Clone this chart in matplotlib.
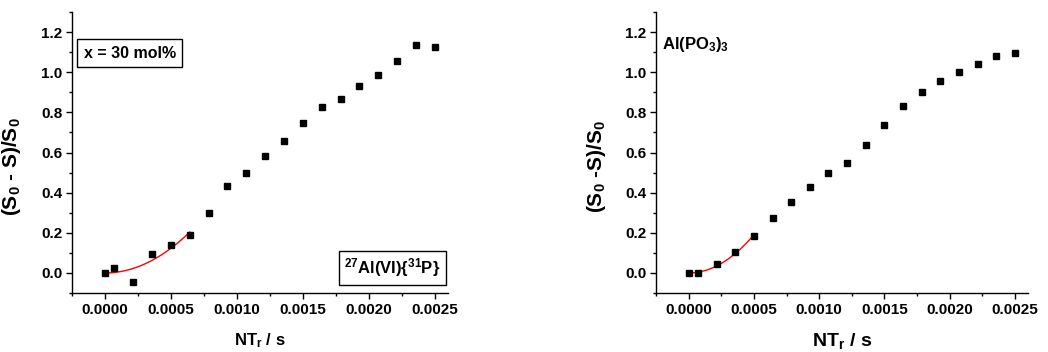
import numpy as np
import matplotlib
matplotlib.use("Agg")
import matplotlib.pyplot as plt

plt.rcParams['font.family'] = ['Liberation Sans', 'DejaVu Sans']
plt.rcParams['font.weight'] = 'bold'
plt.rcParams['mathtext.fontset'] = 'custom'
plt.rcParams['mathtext.rm'] = 'Liberation Sans:bold'
plt.rcParams['mathtext.it'] = 'Liberation Sans:bold'
plt.rcParams['mathtext.bf'] = 'Liberation Sans:bold'

# Dephasing times NT_r (s): multiples of the rotor period 1/7000 s
nt_units = [0, 0.5, 1.5, 2.5, 3.5, 4.5, 5.5, 6.5, 7.5, 8.5, 9.5,
            10.5, 11.5, 12.5, 13.5, 14.5, 15.5, 16.5, 17.5]
nt_r = [u / 7000.0 for u in nt_units]

# 27Al(VI){31P} REDOR fraction, x = 30 mol%
redor_30 = [0.000, 0.027, -0.046, 0.093, 0.141, 0.191, 0.300, 0.433,
            0.497, 0.582, 0.658, 0.749, 0.825, 0.869, 0.932, 0.988,
            1.054, 1.137, 1.124]

# Al(PO3)3 REDOR fraction
redor_alpo3 = [0.000, 0.000, 0.046, 0.105, 0.184, 0.276, 0.354, 0.427,
               0.500, 0.548, 0.636, 0.739, 0.832, 0.901, 0.954, 1.002,
               1.039, 1.080, 1.095]

# Upper limit of the initial parabolic (second-moment) fit range
fit_max_30 = 0.00065
fit_max_alpo3 = 0.00051

xticks = [0.0, 0.0005, 0.0010, 0.0015, 0.0020, 0.0025]
yticks = [0.0, 0.2, 0.4, 0.6, 0.8, 1.0, 1.2]


def parabola_fit(x, y, xmax):
    x = np.asarray(x)
    y = np.asarray(y)
    m = x <= xmax
    a = np.sum(x[m] ** 2 * y[m]) / np.sum(x[m] ** 4)
    xs = np.linspace(0, x[m].max(), 100)
    return xs, a * xs ** 2


def style_axes(ax, ylabel, xlabel_size):
    ax.set_xlim(-0.00025, 0.0026)
    ax.set_ylim(-0.1, 1.3)
    ax.set_xticks(xticks)
    ax.set_xticklabels([f"{t:.4f}" for t in xticks])
    ax.set_yticks(yticks)
    ax.set_yticklabels([f"{t:.1f}" for t in yticks])
    ax.set_xticks(np.arange(-0.00025, 0.0026, 0.0005), minor=True)
    ax.set_yticks(np.arange(-0.1, 1.31, 0.2), minor=True)
    for s in ('top', 'right'):
        ax.spines[s].set_visible(False)
    for s in ('left', 'bottom'):
        ax.spines[s].set_linewidth(1.0)
    ax.tick_params(which='major', direction='out', length=4, width=1.0,
                   labelsize=11, pad=3)
    ax.tick_params(which='minor', direction='out', length=2.2, width=1.0)
    for lab in ax.get_xticklabels() + ax.get_yticklabels():
        lab.set_fontweight('bold')
    ax.set_xlabel(r"NT$_\mathrm{r}$ / s", fontsize=xlabel_size, fontweight='bold')
    ax.set_ylabel(ylabel, fontsize=15, fontweight='bold')
    ax.xaxis.set_label_coords(0.5, -0.137)
    ax.yaxis.set_label_coords(-0.13, 0.45)


fig = plt.figure(figsize=(10.48, 3.52), dpi=100)
ax1 = fig.add_axes([72 / 1048, 59 / 352, 376 / 1048, 281 / 352])
ax2 = fig.add_axes([656 / 1048, 59 / 352, 372 / 1048, 281 / 352])

# Left panel
ax1.plot(nt_r, redor_30, 's', color='black', ms=4.7, zorder=3)
fx, fy = parabola_fit(nt_r, redor_30, fit_max_30)
ax1.plot(fx, fy, color='red', lw=1.0, zorder=2)
style_axes(ax1, r"(S$_0$ - S)/S$_0$", 12)
ax1.text(0.154, 0.854, "x = 30 mol%", transform=ax1.transAxes,
         ha='center', va='center', fontsize=11.5, fontweight='bold',
         bbox=dict(boxstyle='square,pad=0.4', fc='white', ec='black', lw=1.0))
ax1.text(0.852, 0.089, r"$^{27}$Al(VI){$^{31}$P}", transform=ax1.transAxes,
         ha='center', va='center', fontsize=12, fontweight='bold',
         bbox=dict(boxstyle='square,pad=0.32', fc='white', ec='black', lw=1.0))

# Right panel
ax2.plot(nt_r, redor_alpo3, 's', color='black', ms=4.7, zorder=3)
fx, fy = parabola_fit(nt_r, redor_alpo3, fit_max_alpo3)
ax2.plot(fx, fy, color='red', lw=1.0, zorder=2)
style_axes(ax2, r"(S$_0$ -S)/S$_0$", 14)
ax2.text(0.016, 0.886, r"Al(PO$_3$)$_3$", transform=ax2.transAxes,
         ha='left', va='center', fontsize=12, fontweight='bold')

fig.savefig("out.png", dpi=100, facecolor='white')
